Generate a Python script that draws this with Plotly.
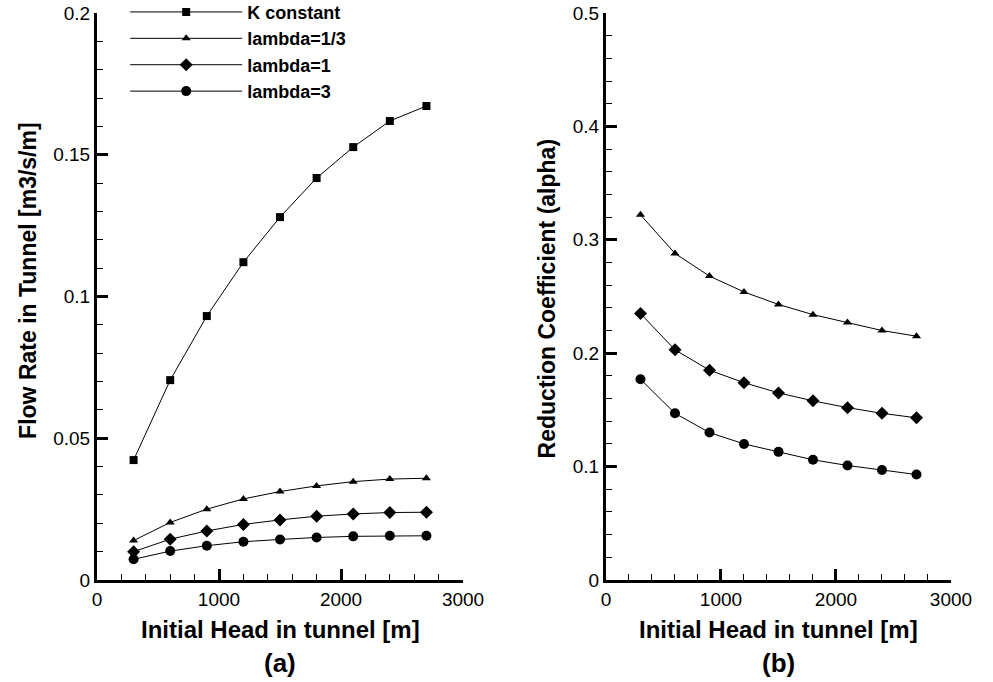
import plotly.graph_objects as go

# ---- data ----
head = [300, 600, 900, 1200, 1500, 1800, 2100, 2400, 2700]

flow_k_constant = [0.0423, 0.0705, 0.0931, 0.1121, 0.1280, 0.1418, 0.1527, 0.1619, 0.1672]
flow_lambda_1_3 = [0.0139, 0.0203, 0.0250, 0.0286, 0.0312, 0.0332, 0.0347, 0.0356, 0.0359]
flow_lambda_1 = [0.0100, 0.0144, 0.0173, 0.0196, 0.0212, 0.0225, 0.0233, 0.0238, 0.0239]
flow_lambda_3 = [0.0073, 0.0102, 0.0121, 0.0135, 0.0143, 0.0150, 0.0154, 0.0156, 0.0156]

alpha_lambda_1_3 = [0.322, 0.288, 0.268, 0.254, 0.243, 0.234, 0.227, 0.220, 0.215]
alpha_lambda_1 = [0.235, 0.203, 0.185, 0.174, 0.165, 0.158, 0.152, 0.147, 0.143]
alpha_lambda_3 = [0.177, 0.147, 0.130, 0.120, 0.113, 0.106, 0.101, 0.097, 0.093]

series_names = ["K constant", "lambda=1/3", "lambda=1", "lambda=3"]
x_ticks = [0, 1000, 2000, 3000]

FONT = "Liberation Sans, Arial, sans-serif"

fig = go.Figure()

symbols = {"K constant": ("square", 8), "lambda=1/3": ("triangle-up", 8),
           "lambda=1": ("diamond", 10), "lambda=3": ("circle", 10)}

left_series = [flow_k_constant, flow_lambda_1_3, flow_lambda_1, flow_lambda_3]
for name, ys in zip(series_names, left_series):
    sym, sz = symbols[name]
    fig.add_trace(go.Scatter(
        x=head, y=ys, mode="lines+markers", name="<b>" + name + "</b>",
        line=dict(color="black", width=1),
        marker=dict(symbol=sym, size=sz, color="black", line=dict(width=0)),
        xaxis="x", yaxis="y", showlegend=True))

right_series = [alpha_lambda_1_3, alpha_lambda_1, alpha_lambda_3]
for name, ys in zip(series_names[1:], right_series):
    sym, sz = symbols[name]
    fig.add_trace(go.Scatter(
        x=head, y=ys, mode="lines+markers", name=name,
        line=dict(color="black", width=1),
        marker=dict(symbol=sym, size=sz, color="black", line=dict(width=0)),
        xaxis="x2", yaxis="y2", showlegend=False))

minor_common = dict(ticks="inside", ticklen=6, tickwidth=1, tickcolor="black", showgrid=False)
axis_common = dict(
    showline=True, linewidth=3, linecolor="black", mirror=False,
    ticks="inside", ticklen=11, tickwidth=3, tickcolor="black",
    showgrid=False, zeroline=False, automargin=False,
    tickfont=dict(family=FONT, size=19, color="black"),
)

fig.update_layout(
    template="none",
    width=993, height=682,
    margin=dict(l=97, r=42, t=13, b=102, autoexpand=False),
    paper_bgcolor="white", plot_bgcolor="white",
    font=dict(family=FONT, color="black"),
    xaxis=dict(domain=[0, 0.4286], range=[0, 3000], tickvals=x_ticks,
               minor=dict(dtick=200, **minor_common),
               anchor="y", **axis_common),
    yaxis=dict(range=[0, 0.2], dtick=0.05, tick0=0,
               minor=dict(dtick=0.01, **minor_common),
               anchor="x", **axis_common),
    xaxis2=dict(domain=[0.596, 1.0], range=[0, 3000], tickvals=x_ticks,
                minor=dict(dtick=200, **minor_common),
                anchor="y2", **axis_common),
    yaxis2=dict(range=[0, 0.5], dtick=0.1, tick0=0,
                minor=dict(dtick=0.02, **minor_common),
                anchor="x2", **axis_common),
    legend=dict(x=0.033, y=1.034, xanchor="left", yanchor="top",
                bgcolor="rgba(0,0,0,0)", borderwidth=0,
                itemwidth=112, tracegroupgap=0,
                font=dict(family=FONT, size=18, color="black")),
    showlegend=True,
)

ann_font = dict(family=FONT, size=23, color="black")
annotations = [
    dict(text="<b>Flow Rate in Tunnel [m3/s/m]</b>", x=-0.081, y=0.529, textangle=-90,
         xref="paper", yref="paper", showarrow=False, font=ann_font,
         xanchor="center", yanchor="middle"),
    dict(text="<b>Reduction Coefficient (alpha)</b>", x=0.527, y=0.495, textangle=-90,
         xref="paper", yref="paper", showarrow=False, font=ann_font,
         xanchor="center", yanchor="middle"),
    dict(text="<b>Initial Head in tunnel [m]</b>", x=0.2143, y=-0.088,
         xref="paper", yref="paper", showarrow=False, font=dict(family=FONT, size=24, color="black"),
         xanchor="center", yanchor="middle"),
    dict(text="<b>Initial Head in tunnel [m]</b>", x=0.798, y=-0.088,
         xref="paper", yref="paper", showarrow=False, font=dict(family=FONT, size=24, color="black"),
         xanchor="center", yanchor="middle"),
    dict(text="<b>(a)</b>", x=0.2143, y=-0.146,
         xref="paper", yref="paper", showarrow=False, font=dict(family=FONT, size=26, color="black"),
         xanchor="center", yanchor="middle"),
    dict(text="<b>(b)</b>", x=0.798, y=-0.146,
         xref="paper", yref="paper", showarrow=False, font=dict(family=FONT, size=26, color="black"),
         xanchor="center", yanchor="middle"),
]
fig.update_layout(annotations=annotations)

fig.write_html(
    "out.html",
    config={"displayModeBar": False},
    post_script="document.body.style.margin='0';document.body.style.overflow='hidden';",
)
